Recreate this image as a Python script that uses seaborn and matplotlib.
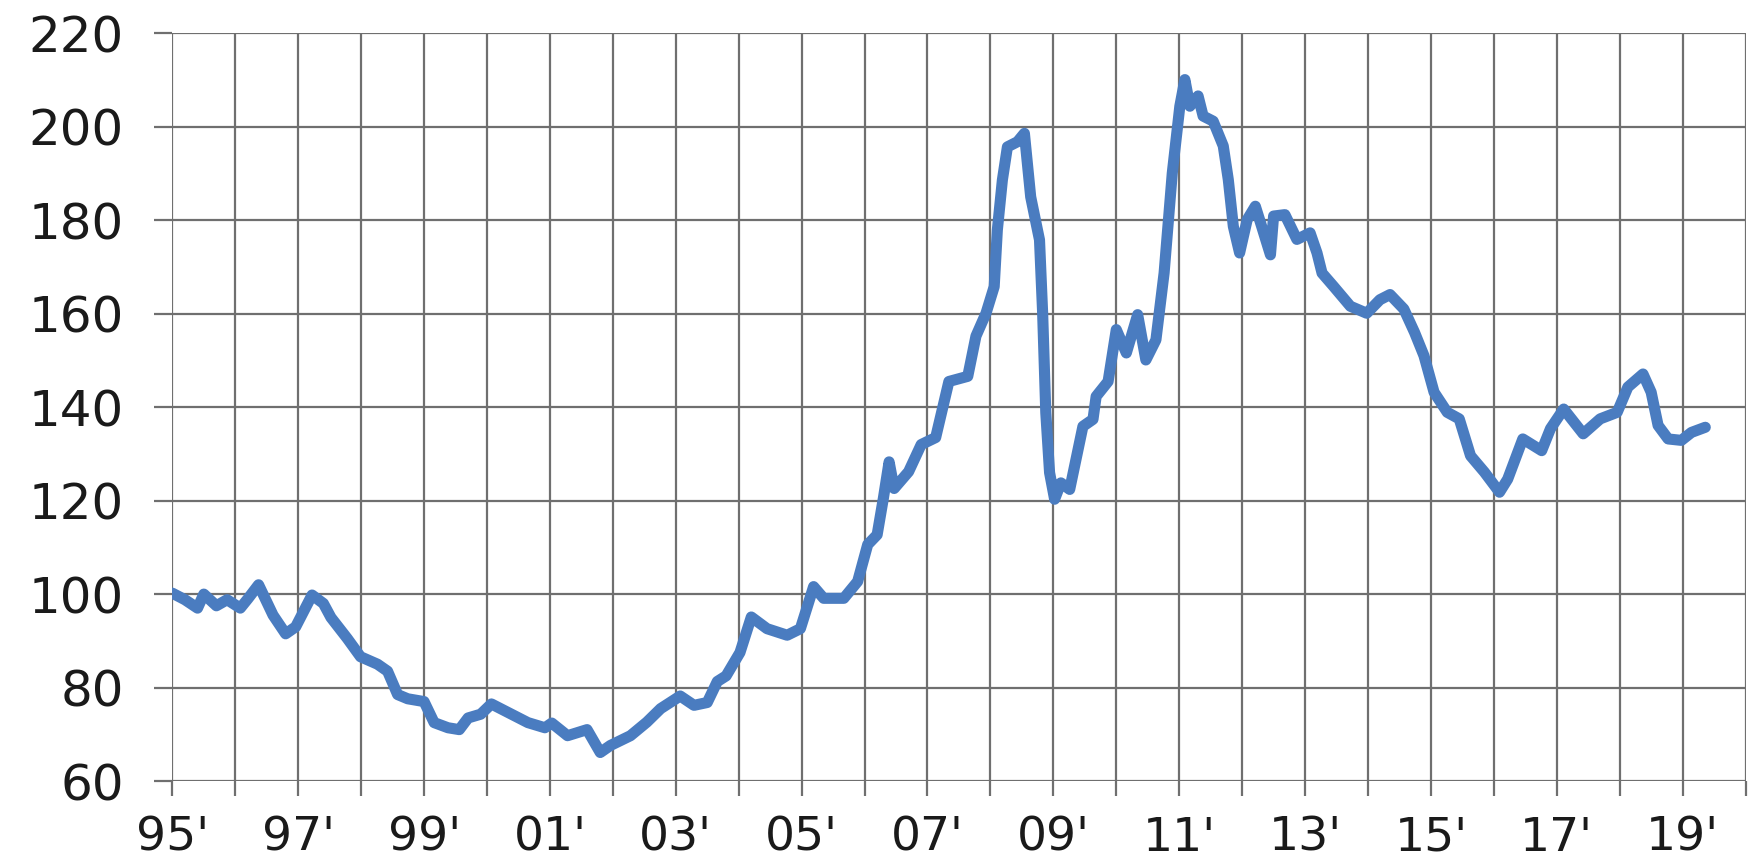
import matplotlib
matplotlib.use("Agg")
import matplotlib.pyplot as plt
import seaborn as sns
import pandas as pd

# Index level (1995 = 100), sampled along the time axis in decimal years
years = [
    1995.00, 1995.20, 1995.40, 1995.50, 1995.70, 1995.87, 1996.08, 1996.20,
    1996.37, 1996.60, 1996.80, 1996.96, 1997.22, 1997.40, 1997.52, 1997.78,
    1997.99, 1998.26, 1998.42, 1998.58, 1998.74, 1999.00, 1999.16, 1999.38,
    1999.56, 1999.70, 1999.90, 2000.07, 2000.33, 2000.65, 2000.92, 2001.03,
    2001.28, 2001.59, 2001.80, 2001.96, 2002.28, 2002.54, 2002.76, 2003.07,
    2003.29, 2003.50, 2003.66, 2003.80, 2004.02, 2004.20, 2004.45, 2004.77,
    2004.98, 2005.19, 2005.35, 2005.67, 2005.89, 2006.05, 2006.20, 2006.30,
    2006.39, 2006.47, 2006.70, 2006.90, 2007.13, 2007.34, 2007.64, 2007.77,
    2007.93, 2008.06, 2008.11, 2008.19, 2008.27, 2008.43, 2008.54, 2008.64,
    2008.78, 2008.83, 2008.88, 2008.94, 2009.02, 2009.12, 2009.26, 2009.47,
    2009.63, 2009.68, 2009.87, 2010.00, 2010.16, 2010.34, 2010.47, 2010.63,
    2010.76, 2010.89, 2011.01, 2011.09, 2011.17, 2011.30, 2011.38, 2011.54,
    2011.70, 2011.78, 2011.86, 2011.96, 2012.08, 2012.21, 2012.31, 2012.45,
    2012.50, 2012.68, 2012.87, 2013.08, 2013.19, 2013.27, 2013.45, 2013.72,
    2013.98, 2014.19, 2014.35, 2014.57, 2014.74, 2014.89, 2015.05, 2015.26,
    2015.45, 2015.63, 2015.85, 2016.09, 2016.22, 2016.46, 2016.76, 2016.90,
    2017.11, 2017.42, 2017.69, 2017.96, 2018.13, 2018.37, 2018.50, 2018.61,
    2018.77, 2018.98, 2019.14, 2019.36,
]
index_values = [
    100.2, 98.8, 97.0, 100.0, 97.5, 98.8, 97.0, 99.0,
    102.0, 95.5, 91.5, 93.0, 99.8, 98.0, 95.0, 90.5,
    86.6, 85.0, 83.5, 78.5, 77.6, 77.0, 72.5, 71.4,
    71.0, 73.5, 74.3, 76.5, 74.7, 72.5, 71.4, 72.4,
    69.7, 71.0, 66.1, 67.6, 69.7, 72.6, 75.5, 78.2,
    76.2, 76.8, 81.3, 82.5, 87.5, 95.1, 92.6, 91.2,
    92.6, 101.6, 99.1, 99.1, 102.7, 110.6, 112.7, 120.6,
    128.3, 122.6, 126.2, 132.0, 133.5, 145.5, 146.6, 155.2,
    160.1, 165.8, 177.9, 188.6, 195.7, 196.8, 198.6, 185.0,
    175.8, 160.1, 138.8, 126.0, 120.3, 123.8, 122.4, 135.9,
    137.4, 142.3, 145.5, 156.6, 151.6, 159.8, 150.1, 154.4,
    168.7, 190.1, 204.4, 210.1, 204.4, 206.6, 202.3, 201.2,
    195.9, 188.7, 178.7, 173.0, 180.1, 183.0, 178.7, 172.6,
    180.9, 181.2, 175.9, 177.3, 173.0, 168.7, 165.9, 161.6,
    160.1, 163.0, 164.1, 161.0, 156.0, 151.0, 143.2, 138.9,
    137.5, 129.6, 126.1, 121.8, 124.6, 133.2, 130.7, 135.4,
    139.6, 134.3, 137.5, 138.9, 144.3, 147.1, 143.2, 136.1,
    133.2, 132.9, 134.6, 135.7,
]

# Axis ticks: a grid line every year, a label every second year
year_ticks = list(range(1995, 2021))
year_labels = [f"{y % 100:02d}'" if (y - 1995) % 2 == 0 else "" for y in year_ticks]
value_ticks = [60, 80, 100, 120, 140, 160, 180, 200, 220]

sns.set_theme(style="white")
plt.rcParams["font.family"] = ["DejaVu Sans"]

grid_color = "#6f6f6f"
line_color = "#4A7CC0"

fig = plt.figure(figsize=(17.48, 8.68), dpi=100)
ax = fig.add_axes([0.0986, 0.1002, 0.9000, 0.8614])

df = pd.DataFrame({"year": years, "index": index_values})
sns.lineplot(data=df, x="year", y="index", ax=ax, color=line_color,
             linewidth=8, zorder=3)
for line in ax.get_lines():
    line.set_linewidth(8)
    line.set_solid_joinstyle("round")
    line.set_solid_capstyle("round")

ax.set_xlim(1995, 2020)
ax.set_ylim(60, 220)
ax.set_xticks(year_ticks)
ax.set_xticklabels(year_labels)
ax.set_yticks(value_ticks)
ax.set_xlabel("")
ax.set_ylabel("")

ax.grid(True, color=grid_color, linewidth=1.6, zorder=1)
for side in ("top", "right", "bottom", "left"):
    ax.spines[side].set_visible(False)

ax.tick_params(axis="x", direction="out", length=11, width=1.6,
               color=grid_color, pad=14, labelsize=34, labelcolor="#1a1a1a")
ax.tick_params(axis="y", direction="out", length=13, width=1.6,
               color=grid_color, pad=22, labelsize=36, labelcolor="#1a1a1a")
ax.tick_params(bottom=True, left=True)

fig.savefig("out.png", dpi=100)
